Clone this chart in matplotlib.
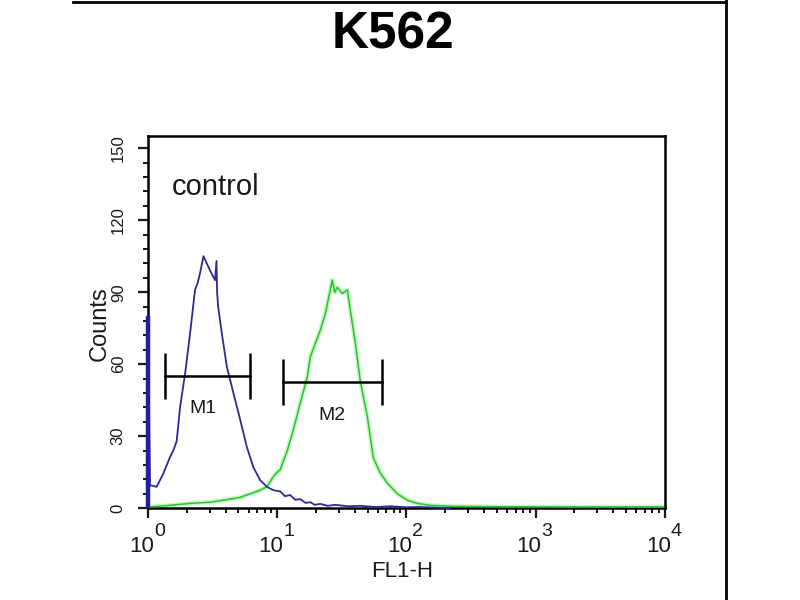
import numpy as np
import matplotlib; matplotlib.use('Agg')
import matplotlib.pyplot as plt
from matplotlib.lines import Line2D
from matplotlib.ticker import LogLocator, MultipleLocator, NullFormatter

plt.rcParams['font.family'] = ['Liberation Sans', 'DejaVu Sans']

# blue (control) histogram, x in log10(FL1-H), y in counts
blue_logx = [0.0, 0.0155, 0.067, 0.119, 0.171, 0.196, 0.222, 0.248, 0.287, 0.326, 0.364,
             0.385, 0.403, 0.429, 0.455, 0.481, 0.519, 0.530, 0.535, 0.543, 0.571, 0.610, 0.661,
             0.713, 0.765, 0.816, 0.868, 0.920, 0.971, 1.023, 1.06, 1.10, 1.14, 1.178,
             1.22, 1.256, 1.29, 1.333, 1.39, 1.45, 1.55, 1.643, 1.76, 1.876, 2.0, 2.1, 2.2, 2.34]
blue_cnt = [80, 9.6, 8.9, 14.5, 21.4, 24, 28, 42, 56, 73, 91,
            94, 98, 105, 102, 99, 95, 103, 90, 84, 73, 59, 48,
            37, 25.5, 17, 11.7, 8.9, 7.5, 7.0, 5.0, 5.5, 3.5, 3.8,
            2.2, 2.5, 1.4, 1.8, 1.0, 1.4, 0.8, 1.0, 0.5, 0.8, 0.4, 0.5, 0.3, 0.0]

# green (antibody) histogram
green_logx = [0.0, 0.13, 0.326, 0.48, 0.58, 0.713, 0.79, 0.868, 0.922, 0.969, 1.0,
              1.023, 1.078, 1.124, 1.178, 1.233, 1.256, 1.295, 1.333, 1.372, 1.411, 1.426,
              1.445, 1.465, 1.504, 1.543, 1.566, 1.605, 1.643, 1.698, 1.744, 1.798, 1.853, 1.93,
              2.008, 2.085, 2.186, 2.34, 2.73, 3.5, 3.99]
green_cnt = [0.5, 1.0, 2.0, 2.5, 3.3, 4.5, 6.0, 7.5, 9.0, 13, 15,
             16, 24, 32.5, 43.7, 54.6, 63, 68.7, 74, 81, 91, 95,
             90, 92, 89.5, 91, 82.5, 68.7, 53, 38, 21, 14.6, 10.4, 6.0,
             3.3, 2.0, 1.2, 0.8, 0.6, 0.5, 0.5]

# markers
marker_names = ['M1', 'M2']
marker_left = [1.35, 11.1]
marker_right = [6.15, 64.6]
marker_level = [55, 52.6]
marker_lab_x = [2.67, 26.5]
marker_lab_y = [41.7, 38.8]
cap_half = 9.5

decades = [0, 1, 2, 3, 4]

fig = plt.figure(figsize=(8, 6), dpi=100)
ax = fig.add_axes([0.185, 0.153, 0.646, 0.62])

bx = 10 ** np.array(blue_logx)
gx = 10 ** np.array(green_logx)
ax.plot(gx, green_cnt, color='#8af08a', lw=3.2, alpha=0.5, zorder=2)
ax.plot(gx, green_cnt, color='#2cc42c', lw=1.1, zorder=3)
ax.plot(bx, blue_cnt, color='#2b2b95', lw=1.3, zorder=4, clip_on=False)
# first (off-scale) bin sits on the left axis as a thick blue bar
ax.vlines(bx[0], 0, blue_cnt[0], color='#1f1fa0', lw=3.2, zorder=6, clip_on=False)

for n, l, r, lv, tx, ty in zip(marker_names, marker_left, marker_right, marker_level,
                               marker_lab_x, marker_lab_y):
    ax.plot([l, r], [lv, lv], color='black', lw=1.8, zorder=5)
    ax.vlines([l, r], lv - cap_half, lv + cap_half, color='black', lw=1.8, zorder=5)
    ax.text(tx, ty, n, fontsize=14, ha='center', va='center', color='#1a1a1a')

ax.text(1.53, 134, 'control', fontsize=21, ha='left', va='center', color='#1a1a1a')

ax.set_xscale('log')
ax.set_xlim(1, 1e4)
ax.set_ylim(0, 155)
ax.xaxis.set_major_locator(LogLocator(base=10, numticks=10))
ax.xaxis.set_minor_locator(LogLocator(base=10, subs=np.arange(2, 10), numticks=10))
ax.xaxis.set_major_formatter(NullFormatter())
ax.xaxis.set_minor_formatter(NullFormatter())
ax.yaxis.set_major_locator(MultipleLocator(30))
ax.yaxis.set_minor_locator(MultipleLocator(6))

ax.tick_params(axis='both', which='major', length=7, width=1.6, direction='out',
               colors='#1a1a1a')
ax.tick_params(axis='both', which='minor', length=3.5, width=1.3, direction='out')
ax.tick_params(axis='y', which='major', labelsize=12, labelrotation=90, pad=9)
for lbl in ax.get_yticklabels():
    lbl.set_va('center')
for sp in ax.spines.values():
    sp.set_linewidth(1.8)

# decade labels: "10" with a large superscript exponent
for d in decades:
    ax.annotate('10', xy=(10 ** d, 0), xycoords=('data', 'axes fraction'),
                xytext=(6, -44), textcoords='offset pixels', ha='right', va='baseline',
                fontsize=16, color='#1a1a1a', annotation_clip=False)
    ax.annotate(str(d), xy=(10 ** d, 0), xycoords=('data', 'axes fraction'),
                xytext=(6, -28), textcoords='offset pixels', ha='left', va='baseline',
                fontsize=14, color='#1a1a1a', annotation_clip=False)

ax.set_xlabel('FL1-H', fontsize=16, color='#1a1a1a')
ax.xaxis.set_label_coords(0.491, -0.143)
ax.set_ylabel('Counts', fontsize=17, color='#1a1a1a')
ax.yaxis.set_label_coords(-0.072, 0.495)

fig.text(0.491, 1 - 35 / 600, 'K562', fontsize=37, weight='bold', ha='center',
         va='center')

# outer frame lines of the original panel
fig.add_artist(Line2D([73 / 800, 726 / 800], [1 - 2 / 600, 1 - 2 / 600],
                      transform=fig.transFigure, color='black', lw=2))
fig.add_artist(Line2D([726 / 800, 726 / 800], [0, 1],
                      transform=fig.transFigure, color='black', lw=2))

fig.savefig('out.png', dpi=100)
